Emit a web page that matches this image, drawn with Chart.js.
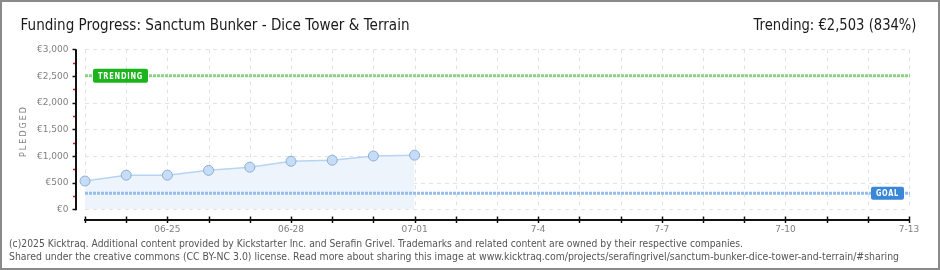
<!DOCTYPE html>
<html>
<head>
<meta charset="utf-8">
<script src="https://cdn.jsdelivr.net/npm/chart.js@4/dist/chart.umd.min.js"></script>
<style>
html, body { margin: 0; padding: 0; background: #fff; }
#wrap { width: 940px; height: 270px; position: relative; }
</style>
</head>
<body>
<div id="wrap"><canvas id="myChart" width="940" height="270"></canvas></div>
<script>
const chartTitle = 'Funding Progress: Sanctum Bunker - Dice Tower & Terrain';
const trendingText = 'Trending: €2,503 (834%)';
const footerLines = [
    '(c)2025 Kicktraq. Additional content provided by Kickstarter Inc. and Serafin Grivel. Trademarks and related content are owned by their respective companies.',
    'Shared under the creative commons (CC BY-NC 3.0) license. Read more about sharing this image at www.kicktraq.com/projects/serafingrivel/sanctum-bunker-dice-tower-and-terrain/#sharing'
];
const dates = ['06-23', '06-24', '06-25', '06-26', '06-27', '06-28', '06-29', '06-30', '07-01',
    '07-02', '07-03', '07-04', '07-05', '07-06', '07-07', '07-08', '07-09', '07-10', '07-11', '07-12', '07-13'];
const pledged = [530, 640, 640, 730, 790, 900, 920, 1000, 1015];
const goal = 300;
const trending = 2503;
const xTickIndex = [2, 5, 8, 11, 14, 17, 20];
const xTickLabels = ['06-25', '06-28', '07-01', '7-4', '7-7', '7-10', '7-13'];
const yTicks = [0, 500, 1000, 1500, 2000, 2500, 3000];
const yTickLabels = ['€0', '€500', '€1,000', '€1,500', '€2,000', '€2,500', '€3,000'];
const yMinorTicks = [250, 750, 1250, 1750, 2250, 2750];

function fitText(ctx, text, x, y, width, align) {
    const w = ctx.measureText(text).width;
    ctx.save();
    ctx.translate(x, y);
    ctx.scale(width / w, 1);
    ctx.textAlign = 'left';
    let start = 0;
    if (align === 'right') start = -w;
    if (align === 'center') start = -w / 2;
    ctx.fillText(text, start, 0);
    ctx.restore();
}

function hLine(ctx, x1, x2, y) {
    ctx.beginPath();
    ctx.moveTo(x1, y);
    ctx.lineTo(x2, y);
    ctx.stroke();
}

function vLine(ctx, x, y1, y2) {
    ctx.beginPath();
    ctx.moveTo(x, y1);
    ctx.lineTo(x, y2);
    ctx.stroke();
}

function tag(ctx, text, cx, cy, w, h, textW, color) {
    ctx.save();
    ctx.fillStyle = color;
    ctx.beginPath();
    ctx.roundRect(cx - w / 2, cy - h / 2, w, h, 2);
    ctx.fill();
    ctx.fillStyle = '#fff';
    ctx.font = 'bold 9px "DejaVu Sans"';
    ctx.letterSpacing = '1px';
    ctx.textBaseline = 'middle';
    fitText(ctx, text, cx, cy + 0.5, textW, 'center');
    ctx.restore();
}

const kicktraqFrame = {
    id: 'kicktraqFrame',
    beforeDatasetsDraw(chart) {
        const { ctx, chartArea: a, scales: { x, y } } = chart;
        ctx.save();
        ctx.strokeStyle = '#e3e3e3';
        ctx.lineWidth = 1;
        ctx.setLineDash([4, 4]);
        dates.forEach((d, i) => {
            const px = Math.round(x.getPixelForValue(i)) + 0.5;
            vLine(ctx, px, a.top, a.bottom);
        });
        yTicks.forEach(v => {
            const py = Math.round(y.getPixelForValue(v)) + 0.5;
            hLine(ctx, a.left, a.right, py);
        });
        ctx.restore();
    },
    afterDatasetsDraw(chart) {
        const { ctx, chartArea: a, scales: { y } } = chart;
        const gy = y.getPixelForValue(goal);
        const ty = y.getPixelForValue(trending);
        ctx.save();
        ctx.lineWidth = 3;
        ctx.setLineDash([3, 1]);
        ctx.strokeStyle = '#95bde9';
        hLine(ctx, a.left, a.right + 1, gy);
        ctx.strokeStyle = '#8fd08a';
        hLine(ctx, a.left, a.right + 1, ty);
        ctx.restore();
        tag(ctx, 'TRENDING', 120.5, ty, 55, 14, 45, '#1cb41c');
        tag(ctx, 'GOAL', 887.5, gy, 33, 13, 23, '#3a87d8');
    },
    afterDraw(chart) {
        const { ctx, chartArea: a, scales: { x, y } } = chart;
        ctx.save();
        // y axis
        ctx.strokeStyle = '#111';
        ctx.lineWidth = 2;
        vLine(ctx, 76, y.getPixelForValue(3000), y.getPixelForValue(0) + 1);
        ctx.lineWidth = 1.5;
        yTicks.forEach(v => hLine(ctx, 72.5, 76, Math.round(y.getPixelForValue(v)) + 0.5));
        ctx.strokeStyle = '#e01010';
        yMinorTicks.forEach(v => hLine(ctx, 73, 75, Math.round(y.getPixelForValue(v)) + 0.5));
        // x axis
        ctx.strokeStyle = '#111';
        ctx.lineWidth = 2;
        hLine(ctx, x.getPixelForValue(0) - 1, x.getPixelForValue(dates.length - 1) + 1, 220);
        ctx.lineWidth = 1.5;
        dates.forEach((d, i) => vLine(ctx, Math.round(x.getPixelForValue(i)) + 0.5, 216.5, 223));
        // tick labels
        ctx.fillStyle = '#808080';
        ctx.font = '9px "DejaVu Sans"';
        ctx.textBaseline = 'middle';
        ctx.textAlign = 'right';
        yTicks.forEach((v, i) => ctx.fillText(yTickLabels[i], 68.5, y.getPixelForValue(v) + 0.5));
        ctx.textAlign = 'center';
        xTickIndex.forEach((idx, i) => ctx.fillText(xTickLabels[i], x.getPixelForValue(idx), 229.5));
        // y title
        ctx.save();
        ctx.translate(24, 131);
        ctx.rotate(-Math.PI / 2);
        ctx.font = '8px "DejaVu Sans"';
        ctx.letterSpacing = '2px';
        ctx.fillText('PLEDGED', 0, 0);
        ctx.restore();
        // title and trending
        ctx.textBaseline = 'alphabetic';
        ctx.fillStyle = '#1a1a1a';
        ctx.font = '15px "DejaVu Sans"';
        fitText(ctx, chartTitle, 20.5, 30, 389, 'left');
        fitText(ctx, trendingText, 916.5, 30, 163, 'right');
        // footer
        ctx.fillStyle = '#555';
        ctx.font = '10px "DejaVu Sans"';
        fitText(ctx, footerLines[0], 9, 247, 734, 'left');
        fitText(ctx, footerLines[1], 9, 260, 890, 'left');
        // frame
        ctx.strokeStyle = '#8a8a8a';
        ctx.lineWidth = 2;
        ctx.strokeRect(1, 1, 938, 268);
        ctx.restore();
    }
};

new Chart(document.getElementById('myChart'), {
    type: 'line',
    data: {
        labels: dates,
        datasets: [{
            data: pledged,
            borderColor: '#b7d4f4',
            borderWidth: 1.5,
            backgroundColor: '#edf4fc',
            fill: 'origin',
            tension: 0,
            pointRadius: 5,
            pointBackgroundColor: '#c6ddf8',
            pointBorderColor: '#8eaed4',
            pointBorderWidth: 1,
            clip: 8
        }]
    },
    options: {
        responsive: false,
        animation: false,
        layout: {
            padding: { left: 85, right: 31, top: 49.3, bottom: 60.7 }
        },
        scales: {
            x: { display: false },
            y: { display: false, min: 0, max: 3000 }
        },
        plugins: {
            legend: { display: false },
            tooltip: { enabled: false }
        }
    },
    plugins: [kicktraqFrame]
});
</script>
</body>
</html>
